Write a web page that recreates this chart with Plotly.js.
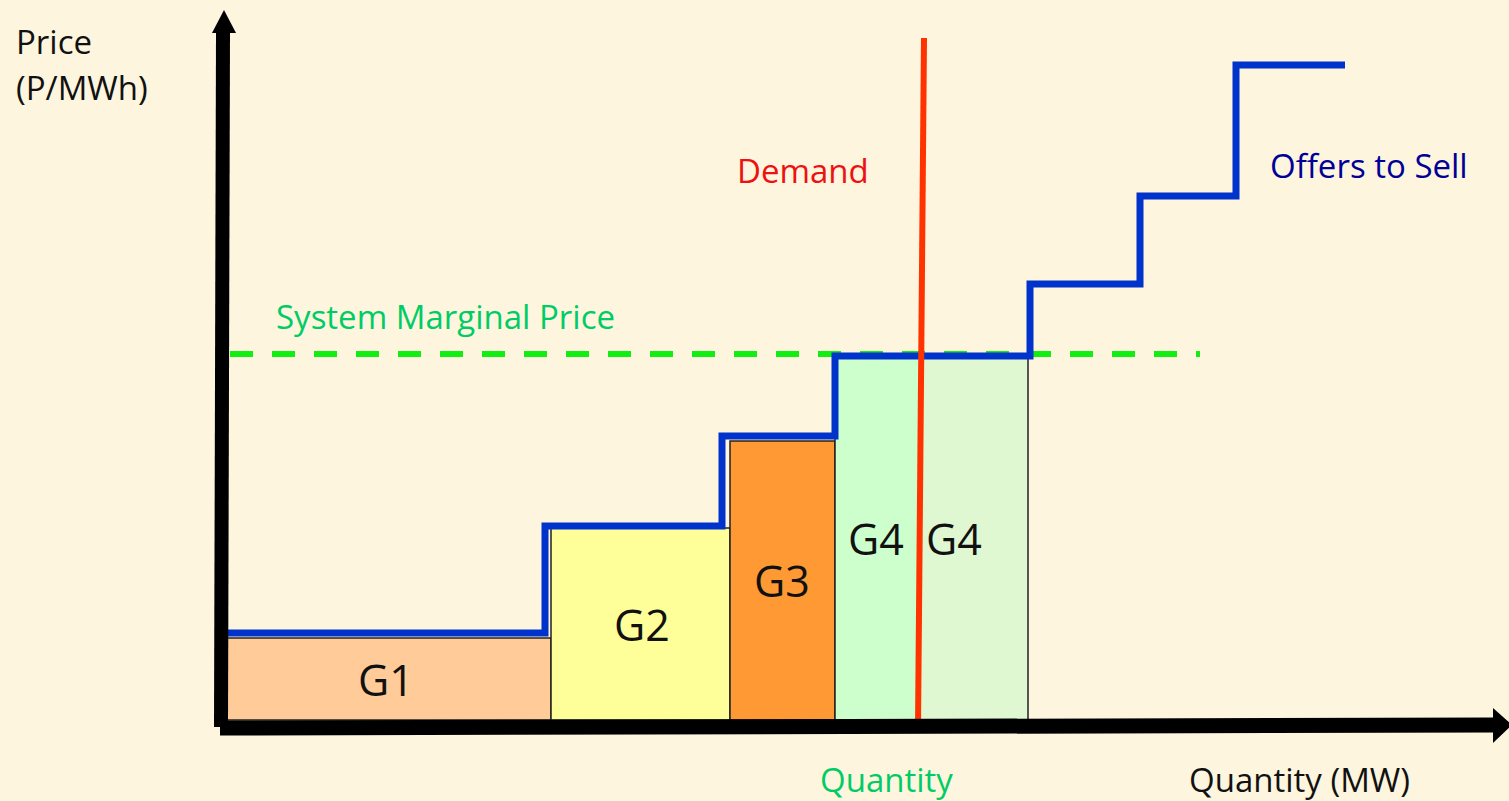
<!DOCTYPE html>
<html>
<head>
<meta charset="utf-8">
<script src="https://cdn.plot.ly/plotly-3.0.1.min.js"></script>
<style>
  html, body { margin: 0; padding: 0; background: #fdf5de; }
  #chart { width: 1509px; height: 801px; }
</style>
</head>
<body>
<div id="chart"></div>
<script>
// generator blocks (quantity in arbitrary MW units, price in P/MWh units)
const blockNames = ['G1', 'G2', 'G3', 'G4', 'G4'];
const blockStart = [0.2, 33.1, 51.0, 61.5, 70.0];
const blockEnd = [33.1, 51.0, 61.5, 70.0, 80.8];
const blockPrice = [8.2, 19.2, 27.9, 36.3, 36.3];
const blockColors = ['#ffcc99', '#ffff99', '#ff9933', '#ccffcc', '#e0f8d2'];
const labelQty = [16.6, 42.2, 56.2, 65.6, 73.4];

// offers to sell step curve
const offerQty = [0, 32.5, 50.2, 61.5, 81.0, 92.0, 101.6, 112.5];
const offerPrice = [8.7, 19.4, 28.4, 36.4, 43.6, 52.4, 65.5, 65.5];

// demand line
const demandQty = [70.4, 69.8];
const demandPrice = [68.2, -0.8];

// system marginal price
const smpQty = [1.0, 98.0];
const smpPrice = [36.6, 36.6];

const font = '"Open Sans", "Noto Sans", sans-serif';

const traces = [];

// blocks as bars
traces.push({
  type: 'bar',
  x: blockStart.map((s, i) => (s + blockEnd[i]) / 2),
  width: blockStart.map((s, i) => blockEnd[i] - s),
  y: blockPrice,
  marker: { color: blockColors, line: { color: '#222222', width: 1.5 } },
  hoverinfo: 'skip',
});

traces.push({
  type: 'scatter',
  mode: 'lines',
  x: smpQty,
  y: smpPrice,
  line: { color: '#11ee11', width: 6, dash: '23px,19px' },
});

traces.push({
  type: 'scatter',
  mode: 'lines',
  x: offerQty,
  y: offerPrice,
  line: { color: '#0033cc', width: 7, shape: 'hv' },
});

traces.push({
  type: 'scatter',
  mode: 'lines',
  x: demandQty,
  y: demandPrice,
  line: { color: '#ff3300', width: 6 },
});

// axes drawn as thick black arrows
const yAxisTop = 68.7, xAxisEnd = 127.5;
const shapes = [
  { type: 'line', x0: 0.1, y0: -0.7, x1: 0.3, y1: yAxisTop, line: { color: 'black', width: 14 } },
  { type: 'path', path: `M -0.8 ${yAxisTop} L 1.6 ${yAxisTop} L 0.4 71 Z`, fillcolor: 'black', line: { width: 0 } },
  { type: 'line', x0: 0, y0: -0.8, x1: xAxisEnd, y1: -0.5, line: { color: 'black', width: 15 } },
  { type: 'path', path: `M ${xAxisEnd - 0.2} 1.2 L ${xAxisEnd - 0.2} -2.3 L 129.2 -0.5 Z`, fillcolor: 'black', line: { width: 0 } },
];

const annotations = blockNames.map((n, i) => ({
  x: labelQty[i], y: blockPrice[i] / 2, text: n, showarrow: false,
  font: { family: font, size: 43, color: '#111111' },
}));

const txt = (text, x, y, color, anchor) => ({
  x, y, text, showarrow: false, xanchor: anchor || 'center',
  font: { family: font, size: 33, color },
});
annotations.push(
  txt('Price', -20.6, 67.9, '#111111', 'left'),
  txt('(P/MWh)', -20.6, 63.3, '#111111', 'left'),
  txt('Demand', 58.3, 55.0, '#ee1111'),
  txt('Offers to Sell', 114.9, 55.5, '#000099'),
  txt('System Marginal Price', 22.5, 40.4, '#00cc66'),
  txt('Quantity', 66.6, -5.9, '#00cc66'),
  txt('Quantity (MW)', 107.9, -5.9, '#111111'),
);

const layout = {
  width: 1509,
  height: 801,
  margin: { l: 0, r: 0, t: 0, b: 0 },
  paper_bgcolor: '#fdf5de',
  plot_bgcolor: '#fdf5de',
  showlegend: false,
  xaxis: { range: [-22, 128.9], visible: false, fixedrange: true },
  yaxis: { range: [-8.1, 72], visible: false, fixedrange: true },
  bargap: 0,
  shapes,
  annotations,
};

Plotly.newPlot('chart', traces, layout, { displayModeBar: false, staticPlot: true });
</script>
</body>
</html>
